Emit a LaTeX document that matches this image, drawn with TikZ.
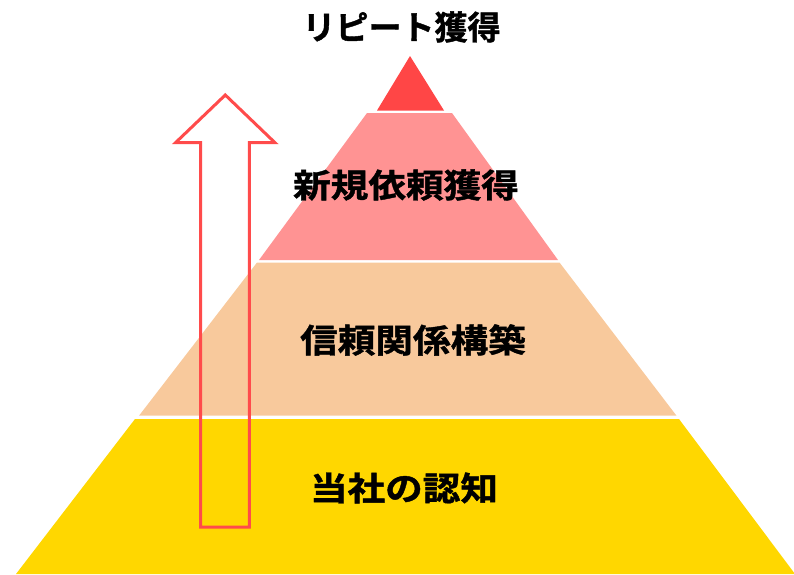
\documentclass[tikz,border=0pt]{standalone}
\usepackage{fontspec}
\newfontfamily\jp{Noto Sans CJK JP}[BoldFont={Noto Sans CJK JP Bold},BoldFeatures={FakeBold=1.2}]
\definecolor{topred}{HTML}{FF4646}
\definecolor{pinkl}{HTML}{FF9393}
\definecolor{peach}{HTML}{F8C99C}
\definecolor{gold}{HTML}{FFD700}
\definecolor{arrowred}{HTML}{FF4B4B}
\newcommand{\wide}[1]{\scalebox{1.14}[1]{#1}}
\begin{document}
\begin{tikzpicture}[x=1pt,y=-1pt,
  lbl/.style={font=\jp\bfseries\fontsize{33}{36}\selectfont, inner sep=0pt, anchor=center},
  toplbl/.style={font=\jp\bfseries\fontsize{33}{37}\selectfont, inner sep=0pt, anchor=center},
  uparrow/.style={draw=arrowred, line width=3pt, line join=miter}]
\useasboundingbox (0,0) rectangle (794,574);
% pyramid layers
\fill[topred] (410,56) -- (444,110.5) -- (377,110.5) -- cycle;
\fill[pinkl] (367,113) -- (452,113) -- (558,260) -- (259,260) -- cycle;
\fill[peach] (257,262.5) -- (559.5,262.5) -- (676.5,415.7) -- (139,415.7) -- cycle;
\fill[gold] (135,419) -- (679,419) -- (795,574) -- (16,574) -- cycle;
% arrow
\draw[uparrow] (200.7,527) -- (200.7,142.7) -- (175.5,142.7) -- (225.3,95) -- (275,142.7) -- (249.3,142.7) -- (249.3,527) -- cycle;
% labels
\node[toplbl] (ltop) at (401.5,27) {リピート獲得};
\node[lbl] (lnew) at (406,185) {\wide{新規依頼獲得}};
\node[lbl] (ltrust) at (413,340) {\wide{信頼関係構築}};
\node[lbl] (laware) at (404,488) {\wide{当社の認知}};
\end{tikzpicture}
\end{document}
